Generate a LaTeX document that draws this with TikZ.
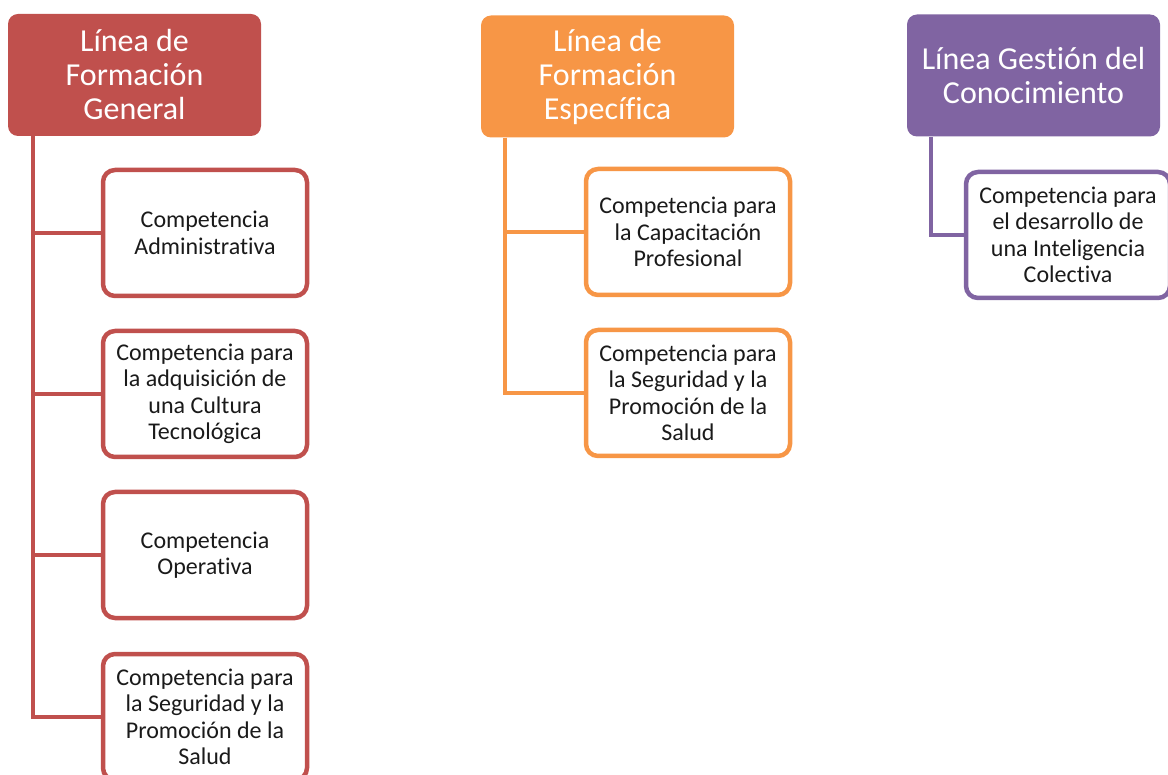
\documentclass[tikz,border=0pt]{standalone}
\usepackage{fontspec}
\setmainfont{Carlito}[Ligatures=NoCommon]
\definecolor{rojo}{HTML}{C0504D}
\definecolor{naranja}{HTML}{F79646}
\definecolor{morado}{HTML}{8064A2}
\definecolor{texto}{HTML}{1A1A1A}
\begin{document}
\begin{tikzpicture}[
			x=1pt, y=-1pt,
			linea/.style={fill=#1, draw=none, rounded corners=10pt, minimum width=253pt,
				minimum height=122pt, align=center, text=white,
				font=\fontsize{32}{34}\selectfont},
			comp/.style={draw=#1, line width=4.5pt, fill=white, rounded corners=12pt,
				minimum width=204pt, minimum height=126pt, align=center, text=texto,
				font=\fontsize{24}{26.5}\selectfont},
			rama/.style={draw=#1, line width=4.5pt}
			]
			\clip (0,0) rectangle (1168,775);
			% linea general
			\node[linea=rojo] (general) at (134.5,75) {Línea de\\Formación\\General};
			\node[comp=rojo] (adm) at (205,233) {Competencia\\Administrativa};
			\node[comp=rojo] (tec) at (205,394) {Competencia para\\la adquisición de\\una Cultura\\Tecnológica};
			\node[comp=rojo] (ope) at (205,555) {Competencia\\Operativa};
			\node[comp=rojo] (segA) at (205,717) {Competencia para\\la Seguridad y la\\Promoción de la\\Salud};
			\foreach \c in {adm,tec,ope,segA}
				\draw[rama=rojo] ([xshift=25pt]general.south west) |- (\c.west);
			% linea especifica
			\node[linea=naranja] (especifica) at (607.5,76.5) {Línea de\\Formación\\Específica};
			\node[comp=naranja] (cap) at (688,232) {Competencia para\\la Capacitación\\Profesional};
			\node[comp=naranja] (segB) at (688,393) {Competencia para\\la Seguridad y la\\Promoción de la\\Salud};
			\foreach \c in {cap,segB}
				\draw[rama=naranja] ([xshift=24pt]especifica.south west) |- (\c.west);
			% linea gestion
			\node[linea=morado] (gestion) at (1033.5,75.5) {Línea Gestión del\\Conocimiento};
			\node[comp=morado] (intel) at (1068,235) {Competencia para\\el desarrollo de\\una Inteligencia\\Colectiva};
			\draw[rama=morado] ([xshift=24pt]gestion.south west) |- (intel.west);
		\end{tikzpicture}
\end{document}
